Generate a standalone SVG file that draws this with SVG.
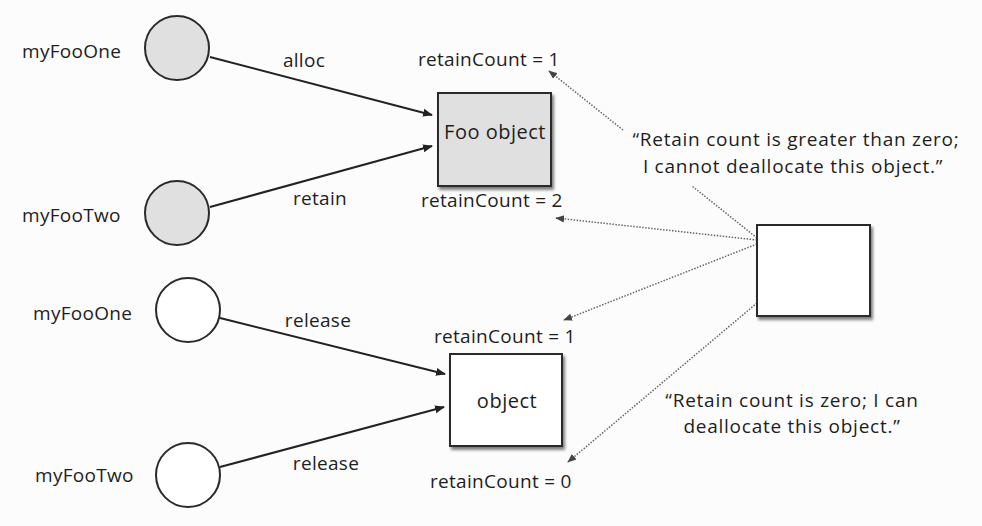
<svg xmlns="http://www.w3.org/2000/svg" width="982" height="526" viewBox="0 0 982 526">
<defs>
<style>
text{font-family:"Open Sans","Noto Sans","Liberation Sans",sans-serif;font-size:19px;letter-spacing:0.3px;fill:#1e1e1e}
.m{text-anchor:middle}
.q{letter-spacing:0.75px}
.bl{font-size:20px;letter-spacing:0.5px}
.circ{stroke:#2a2a2a;stroke-width:2}
.gray{fill:#e0e0e0}
.white{fill:#fff}
.box{stroke:#2a2a2a;stroke-width:2;filter:url(#sh)}
.solid{stroke:#222;stroke-width:2;fill:none;marker-end:url(#ah)}
.dot{stroke:#666;stroke-width:1.5;fill:none;stroke-dasharray:1.5 1.5;marker-end:url(#ahd)}
</style>
<filter id="sh" x="-10%" y="-10%" width="130%" height="130%">
<feGaussianBlur in="SourceAlpha" stdDeviation="1.5"/>
<feOffset dx="2" dy="3" result="b"/>
<feComponentTransfer><feFuncA type="linear" slope="0.5"/></feComponentTransfer>
<feMerge><feMergeNode/><feMergeNode in="SourceGraphic"/></feMerge>
</filter>
<marker id="ah" viewBox="0 0 10 10" refX="9" refY="5" markerWidth="5" markerHeight="5" orient="auto" markerUnits="strokeWidth">
<path d="M0,1 L10,5 L0,9 z" fill="#222"/>
</marker>
<marker id="ahd" viewBox="0 0 10 10" refX="9" refY="5" markerWidth="6" markerHeight="6" orient="auto" markerUnits="strokeWidth">
<path d="M0,1 L10,5 L0,9 z" fill="#444"/>
</marker>
</defs>
<rect width="982" height="526" fill="#fcfcfc"/>

<g id="connectors">
<path class="solid" d="M210,57 L432,115"/>
<path class="solid" d="M210,207 L432,146"/>
<path class="solid" d="M220,318 L445,374"/>
<path class="solid" d="M220,467 L444,407"/>
<path class="dot" d="M757,238 L692,186 M623,130 L549,71"/>
<path class="dot" d="M757,240 L556,218"/>
<path class="dot" d="M757,244 L564,320"/>
<path class="dot" d="M757,303 L568,462"/>
</g>

<g id="myFooOne1">
<circle class="circ gray" cx="177" cy="48" r="32"/>
<text x="22" y="58">myFooOne</text>
</g>
<g id="myFooTwo1">
<circle class="circ gray" cx="177" cy="213" r="32"/>
<text x="22" y="222">myFooTwo</text>
</g>
<g id="myFooOne2">
<circle class="circ white" cx="188" cy="310" r="32"/>
<text x="33" y="320">myFooOne</text>
</g>
<g id="myFooTwo2">
<circle class="circ white" cx="188" cy="475" r="32"/>
<text x="35" y="482">myFooTwo</text>
</g>

<g id="fooObject">
<rect class="box gray" x="438" y="93" width="113" height="93"/>
<text class="m bl" x="495" y="139">Foo object</text>
</g>
<g id="object">
<rect class="box white" x="450" y="354" width="112" height="92"/>
<text class="m bl" x="507" y="408">object</text>
</g>
<g id="autorelease">
<rect class="box white" x="757" y="225" width="113" height="91"/>
</g>

<g id="labels">
<text class="m" x="304" y="67">alloc</text>
<text class="m" x="320" y="205">retain</text>
<text class="m" x="318" y="327">release</text>
<text class="m" x="326" y="470">release</text>
<text x="418" y="66">retainCount = 1</text>
<text x="421" y="207">retainCount = 2</text>
<text x="434" y="343">retainCount = 1</text>
<text x="430" y="488">retainCount = 0</text>
<text class="m q" x="796" y="146">“Retain count is greater than zero;</text>
<text class="m q" x="793" y="173">I cannot deallocate this object.”</text>
<text class="m q" x="792" y="407">“Retain count is zero; I can</text>
<text class="m q" x="792" y="433">deallocate this object.”</text>
</g>
</svg>
